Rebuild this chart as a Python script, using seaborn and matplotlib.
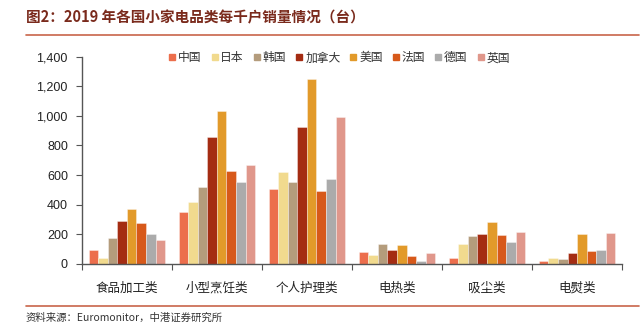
import matplotlib
matplotlib.use("Agg")
import matplotlib.pyplot as plt
import seaborn as sns
import pandas as pd
from matplotlib.ticker import FuncFormatter, FixedLocator
from matplotlib.lines import Line2D

categories = ["食品加工类", "小型烹饪类", "个人护理类", "电热类", "吸尘类", "电熨类"]
countries = ["中国", "日本", "韩国", "加拿大", "美国", "法国", "德国", "英国"]
china   = [94, 350, 503, 83, 38, 20]
japan   = [40, 416, 618, 58, 133, 40]
korea   = [175, 519, 553, 135, 189, 36]
canada  = [292, 856, 926, 92, 202, 72]
usa     = [373, 1029, 1249, 128, 281, 202]
france  = [274, 625, 490, 52, 196, 85]
germany = [202, 551, 571, 20, 151, 92]
uk      = [164, 665, 989, 72, 216, 207]
series = [china, japan, korea, canada, usa, france, germany, uk]
colors = ["#EC6E4C", "#F1DA8E", "#B49C7C", "#A42C12", "#E29A2A", "#D7591A", "#ABABAB", "#E0978B"]

rows = []
for c, vals in zip(countries, series):
    for cat, v in zip(categories, vals):
        rows.append({"cat": cat, "country": c, "value": v})
df = pd.DataFrame(rows)

sns.set_theme(style="white")
plt.rcParams['font.family'] = ['Noto Sans CJK SC', 'DejaVu Sans']

fig = plt.figure(figsize=(6.44, 3.25), dpi=100)
ax = fig.add_axes([0.127, 0.188, 0.839, 0.638])

sns.barplot(data=df, x="cat", y="value", hue="country", hue_order=countries,
            order=categories, palette=colors, width=0.85, ax=ax, saturation=1,
            edgecolor=(1, 1, 1, 0.5), linewidth=0.5, legend=False)

ax.set_ylim(0, 1400)
ax.set_xlim(-0.5, 5.5)
ax.set_yticks(range(0, 1401, 200))
ax.yaxis.set_major_formatter(FuncFormatter(lambda v, p: f"{int(v):,}"))
ax.set_xlabel("")
ax.set_ylabel("")
for s in ["top", "right"]:
    ax.spines[s].set_visible(False)
for s in ["left", "bottom"]:
    ax.spines[s].set_color("#555555")
    ax.spines[s].set_linewidth(1.0)
ax.tick_params(axis="y", which="major", left=True, length=4, width=0.8, color="#555555",
               labelsize=9, labelcolor="#222222", direction="out", pad=6)
for lab in ax.get_yticklabels():
    lab.set_family("Liberation Sans")
ax.tick_params(axis="x", which="major", bottom=False, labelsize=9, labelcolor="#222222", pad=7)
ax.xaxis.set_minor_locator(FixedLocator([i + 0.5 for i in range(-1, 6)]))
ax.tick_params(axis="x", which="minor", bottom=True, length=4, width=0.8, color="#555555", direction="out")

handles = [Line2D([0], [0], marker="s", linestyle="", markersize=4.5, markerfacecolor=col,
                  markeredgecolor=col) for col in colors]
fig.legend(handles, countries, loc="center", bbox_to_anchor=(0.525, 0.822), ncol=8,
           frameon=False, fontsize=8.5, handletextpad=0.0, columnspacing=0.6,
           handlelength=1.0, labelcolor="#333333")

fig.text(0.04, 0.945, "图2：2019 年各国小家电品类每千户销量情况（台）", fontsize=10.5,
         fontweight="bold", color="#7A2A1C", va="center", ha="left")
fig.add_artist(Line2D([0.04, 0.993], [0.893, 0.893], transform=fig.transFigure,
                      color="#C8654A", linewidth=1.2))
fig.add_artist(Line2D([0.04, 0.993], [0.058, 0.058], transform=fig.transFigure,
                      color="#C8654A", linewidth=1.2))
fig.text(0.04, 0.022, "资料来源：Euromonitor，中港证券研究所", fontsize=7.5,
         fontstyle="italic", color="#333333", va="center", ha="left")

fig.savefig("out.png", dpi=100)
